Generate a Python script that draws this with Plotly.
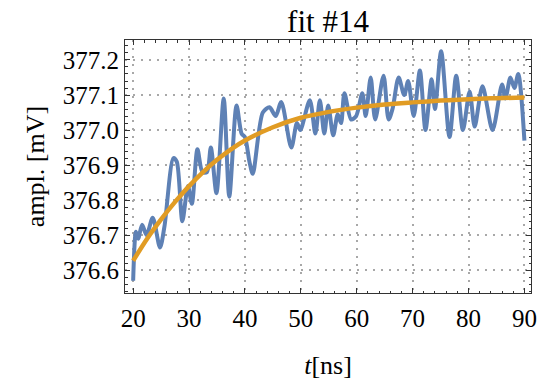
import plotly.graph_objects as go

# Measured signal (blue)
t_data = [20.0, 20.5, 20.9, 21.6, 22.4, 23.5, 24.8, 25.6, 27.2, 27.8, 28.8, 29.8, 30.5,
          31.5, 32.4, 33.2, 33.9, 34.9, 36.2, 37.2, 38.5, 39.4, 40.0, 40.8, 41.4, 43.2,
          44.4, 45.5, 46.5, 48.3, 49.3, 49.9, 51.6, 52.6, 53.4, 54.2, 54.9, 55.8, 56.6,
          57.2, 57.8, 59.0, 59.9, 61.0, 61.6, 62.5, 63.3, 64.8, 65.7, 66.4, 67.5, 68.5,
          69.2, 70.2, 71.3, 72.3, 73.4, 74.0, 75.1, 76.6, 77.8, 79.0, 80.2, 81.1, 82.5,
          84.3, 86.0, 86.6, 87.5, 88.2, 88.9, 90.0]
v_data = [376.57, 376.71, 376.69, 376.73, 376.70, 376.75, 376.665, 376.725, 376.92, 376.91,
          376.74, 376.84, 376.79, 376.945, 376.88, 376.88, 376.95, 376.82, 377.09, 376.81,
          377.07, 376.99, 376.98, 376.91, 376.875, 377.05, 377.065, 377.04, 377.08, 376.95,
          377.02, 377.0, 377.085, 376.99, 377.085, 376.99, 377.07, 376.985, 377.045, 377.02,
          377.105, 377.03, 377.04, 377.105, 377.04, 377.15, 377.03, 377.155, 377.03, 377.06,
          377.15, 377.10, 377.14, 377.04, 377.17, 377.0, 377.145, 377.06, 377.225, 376.98,
          377.155, 377.0, 377.11, 377.01, 377.125, 377.0, 377.13, 377.09, 377.15, 377.12,
          377.16, 376.97]

# Fit curve (orange)
t_fit = [20, 22.5, 25, 27.5, 30, 32.5, 35, 37.5, 40, 45, 50, 55, 60, 65, 70, 75, 80, 85, 90]
v_fit = [376.627, 376.69, 376.745, 376.795, 376.84, 376.88, 376.915, 376.945, 376.97,
         377.008, 377.035, 377.052, 377.064, 377.073, 377.079, 377.084, 377.088, 377.091, 377.093]

x_ticks = [20, 30, 40, 50, 60, 70, 80, 90]
y_ticks = [376.6, 376.7, 376.8, 376.9, 377.0, 377.1, 377.2]
y_tick_text = ["376.6", "376.7", "376.8", "376.9", "377.0", "377.1", "377.2"]

FONT = "Liberation Serif"

fig = go.Figure()
fig.add_trace(go.Scatter(x=t_data, y=v_data, mode="lines",
                         line=dict(color="#5e81b5", width=4, shape="spline", smoothing=0.8),
                         showlegend=False))
fig.add_trace(go.Scatter(x=t_fit, y=v_fit, mode="lines",
                         line=dict(color="#e19c24", width=4.5, shape="spline"),
                         showlegend=False))

axis_common = dict(
    showline=True, linecolor="#333333", linewidth=1, mirror="allticks",
    ticks="inside", ticklen=5, tickwidth=1, tickcolor="#333333",
    showgrid=True, gridcolor="#a8a8a8", griddash="2px,6px", gridwidth=2,
    zeroline=False, ticklabeloverflow="allow",
    tickfont=dict(family=FONT, size=25, color="black"),
)

fig.update_xaxes(range=[18.54, 91.18], tickvals=x_ticks, ticklabelstandoff=3,
                 minor=dict(ticks="inside", dtick=2, tick0=20, ticklen=2.5, tickcolor="#333333", showgrid=False),
                 title=dict(text="<i>t</i>[ns]", font=dict(family=FONT, size=26, color="black"), standoff=24),
                 **axis_common)
fig.update_yaxes(range=[376.535, 377.257], tickvals=y_ticks, ticktext=y_tick_text,
                 minor=dict(ticks="inside", dtick=0.02, tick0=376.6, ticklen=2.5, tickcolor="#333333", showgrid=False),
                 title=dict(text="ampl. [mV]", font=dict(family=FONT, size=26, color="black"), standoff=10),
                 **axis_common)

fig.update_layout(
    width=541, height=387,
    margin=dict(l=125, r=4, t=40, b=94),
    paper_bgcolor="white", plot_bgcolor="white",
    title=dict(text="fit #14", xref="paper", x=0.5, xanchor="center",
               yref="container", y=0.945, yanchor="middle",
               font=dict(family=FONT, size=31, color="black")),
)

fig.write_html("out.html")
